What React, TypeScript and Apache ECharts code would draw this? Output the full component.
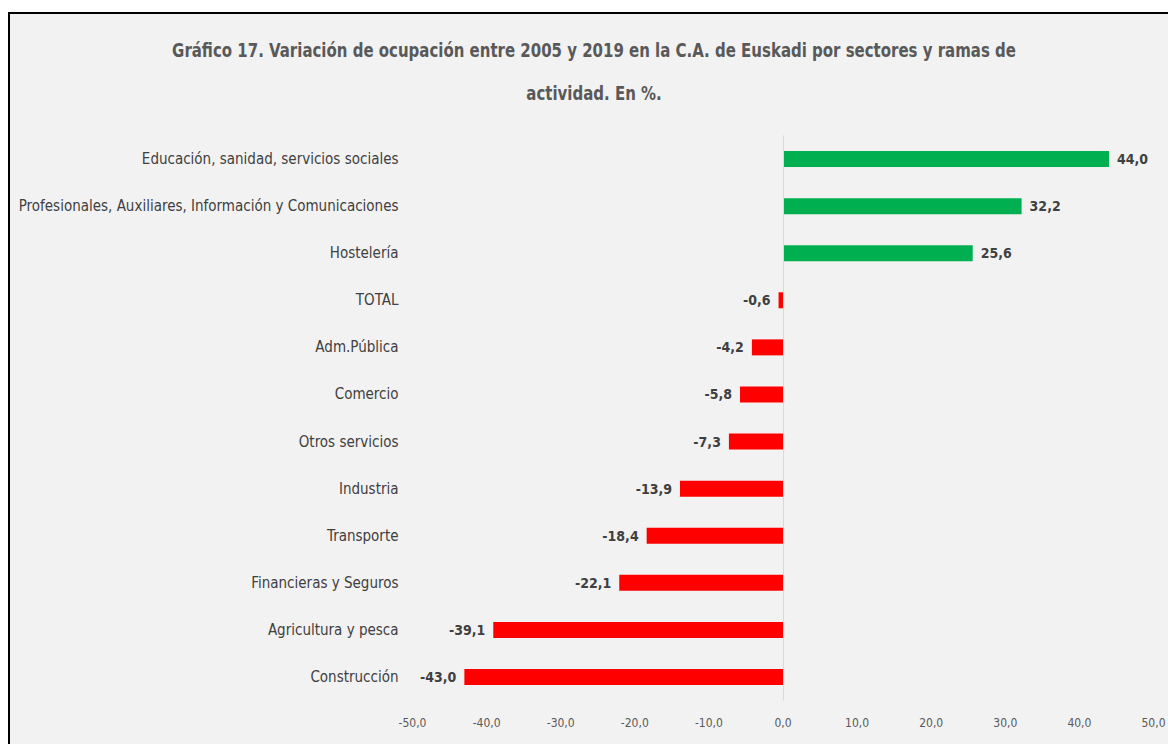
import React, { useEffect, useRef } from "react";
import * as echarts from "echarts";

const categories = [
  "Educación, sanidad, servicios sociales",
  "Profesionales, Auxiliares, Información y Comunicaciones",
  "Hostelería",
  "TOTAL",
  "Adm.Pública",
  "Comercio",
  "Otros servicios",
  "Industria",
  "Transporte",
  "Financieras y Seguros",
  "Agricultura y pesca",
  "Construcción",
];
const values = [44.0, 32.2, 25.6, -0.6, -4.2, -5.8, -7.3, -13.9, -18.4, -22.1, -39.1, -43.0];
const titleLines = [
  "Gráfico 17. Variación de ocupación entre 2005 y 2019 en la C.A. de Euskadi por sectores y ramas de",
  "actividad. En %.",
];

const FONT = "'DejaVu Sans Condensed', 'Liberation Sans Narrow', 'Noto Sans', sans-serif";
const fmt = (v: number) => v.toFixed(1).replace(".", ",");

export default function App() {
  const ref = useRef<HTMLDivElement>(null);
  useEffect(() => {
    if (!ref.current) return;
    const chart = echarts.init(ref.current, null, { renderer: "svg" });
    chart.setOption({
      animation: false,
      backgroundColor: "#ffffff",
      graphic: [
        {
          type: "rect",
          z: -10,
          silent: true,
          shape: { x: 9, y: 13, width: 1200, height: 800 },
          style: { fill: "#f2f2f2", stroke: "#000000", lineWidth: 2 },
        },
        ...titleLines.map((t, i) => ({
          type: "text",
          silent: true,
          x: 594,
          y: 50 + i * 43,
          scaleX: 0.833,
          style: {
            text: t,
            fontFamily: FONT,
            fontSize: 20,
            fontWeight: "bold",
            fill: "#595959",
            align: "center",
            verticalAlign: "middle",
          },
        })),
      ],
      grid: {
        left: 412.5,
        right: 14.5,
        top: 135.5,
        bottom: 43.5,
        containLabel: false,
        outerBoundsMode: "none",
      },
      xAxis: {
        type: "value",
        min: -50,
        max: 50,
        interval: 10,
        axisLine: { show: false },
        axisTick: { show: false },
        splitLine: { show: false },
        axisLabel: {
          formatter: (v: number) => fmt(v),
          fontFamily: FONT,
          fontSize: 12,
          color: "#595959",
          margin: 16,
        },
      },
      yAxis: {
        type: "category",
        data: categories,
        inverse: true,
        axisLine: { show: false },
        axisTick: { show: false },
        axisLabel: {
          fontFamily: FONT,
          fontSize: 15,
          color: "#404040",
          margin: 14,
        },
      },
      series: [
        {
          type: "bar",
          barWidth: 16,
          data: values.map((v) => ({
            value: v,
            itemStyle: { color: v >= 0 ? "#00b050" : "#ff0000" },
            label: {
              show: true,
              position: v >= 0 ? "right" : "left",
              distance: 8,
              formatter: () => fmt(v),
              fontFamily: FONT,
              fontSize: 14,
              fontWeight: "bold",
              color: "#404040",
            },
          })),
          markLine: {
            silent: true,
            symbol: "none",
            label: { show: false },
            lineStyle: { color: "#d9d9d9", type: "solid", width: 1 },
            data: [{ xAxis: 0 }],
          },
        },
      ],
    });
    return () => chart.dispose();
  }, []);
  return (
    <div
      ref={ref}
      style={{ position: "fixed", left: 0, top: 0, width: 1168, height: 744 }}
    />
  );
}
